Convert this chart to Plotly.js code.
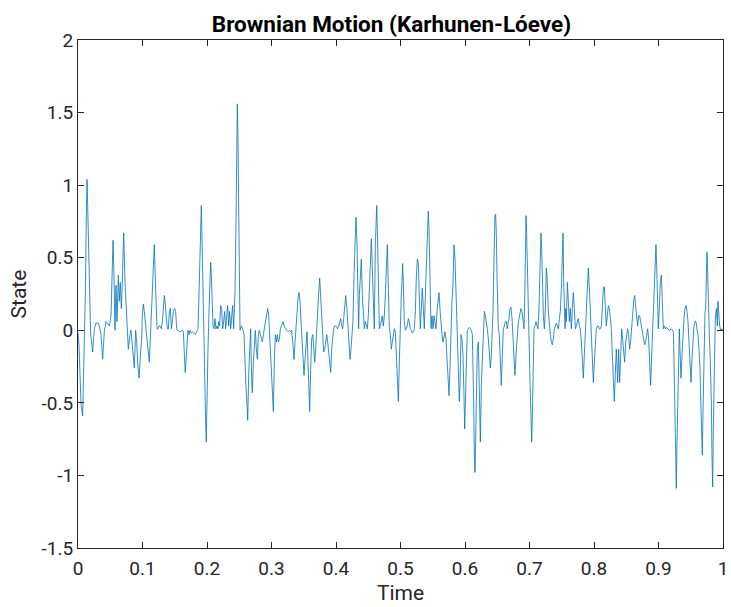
<!DOCTYPE html>
<html>
<head>
<meta charset="utf-8">
<script src="https://cdn.plot.ly/plotly-3.0.1.min.js"></script>
<style>html,body{margin:0;padding:0;background:#fff;}#chart{width:731px;height:607px;}</style>
</head>
<body>
<div id="chart"></div>
<script>
const chartTitle = 'Brownian Motion (Karhunen-Lóeve)';
const xLabel = 'Time';
const yLabel = 'State';
const xTickVals = [0, 0.1, 0.2, 0.3, 0.4, 0.5, 0.6, 0.7, 0.8, 0.9, 1];
const xTickText = ['0', '0.1', '0.2', '0.3', '0.4', '0.5', '0.6', '0.7', '0.8', '0.9', '1'];
const yTickVals = [-1.5, -1, -0.5, 0, 0.5, 1, 1.5, 2];
const yTickText = ['-1.5', '-1', '-0.5', '0', '0.5', '1', '1.5', '2'];

const time = [
0, 0.0016, 0.0031, 0.0047, 0.0072, 0.0098, 0.0114, 0.0129, 0.014, 0.015, 0.0165, 0.018, 0.0196, 0.0227, 0.0253, 0.028, 0.031, 0.033, 0.0357, 0.0382, 0.0408, 0.0434, 0.046, 0.0486, 0.0512, 0.0527, 0.0543, 0.0558, 0.0574, 0.0589, 0.0605, 0.0625, 0.064, 0.0656, 0.0672, 0.0687, 0.0708, 0.0729, 0.0744, 0.076, 0.078,
0.0806, 0.0822, 0.0837, 0.0858, 0.0873, 0.0894, 0.091, 0.0925, 0.0946, 0.0971, 0.0987, 0.0997, 0.1013, 0.1028, 0.1049, 0.1065, 0.1085, 0.1106, 0.1121, 0.1142, 0.1158, 0.1173, 0.1183, 0.1194, 0.1209, 0.1225, 0.124, 0.1256, 0.1271, 0.1292, 0.1308, 0.1323, 0.1339, 0.1354, 0.137, 0.1385, 0.1401, 0.1416, 0.1432, 0.1447, 0.1463, 0.1478, 0.1499, 0.1514, 0.153, 0.1545, 0.1582, 0.1618, 0.1633,
0.1649, 0.1662, 0.1674, 0.169, 0.1705, 0.1721, 0.1736, 0.1757, 0.1777, 0.1798, 0.1819, 0.1839, 0.186, 0.187, 0.1886, 0.1901, 0.1912, 0.1922, 0.1938, 0.1953, 0.1964, 0.1979, 0.1989, 0.2, 0.2015, 0.2031, 0.2046, 0.2057, 0.2067, 0.2077, 0.2093, 0.2108, 0.2124, 0.2139, 0.2155, 0.217, 0.2181, 0.2196, 0.2212, 0.2227, 0.2243, 0.2258, 0.2274, 0.2289, 0.2305, 0.232, 0.2336, 0.2351, 0.2367, 0.2382, 0.2398, 0.2413, 0.2424, 0.2434, 0.245, 0.246, 0.247, 0.2481,
0.2491, 0.2502, 0.2512, 0.2533, 0.2553, 0.2574, 0.259, 0.2605, 0.2621, 0.2631, 0.2646, 0.2662, 0.2677, 0.2693, 0.2703, 0.2719, 0.2734, 0.275, 0.2765, 0.2781, 0.2796, 0.2812, 0.2827, 0.2843, 0.2858, 0.2874, 0.2889, 0.2905, 0.2926, 0.2941, 0.2957, 0.2972, 0.2988, 0.3003, 0.3019, 0.3029, 0.3045, 0.306, 0.3076, 0.3091, 0.3107, 0.3122, 0.3138, 0.3158, 0.3179, 0.3194, 0.3215, 0.3236, 0.3256, 0.3277, 0.3298, 0.3313,
0.3333, 0.3349, 0.3365, 0.338, 0.3396, 0.3411, 0.3427, 0.3442, 0.3458, 0.3473, 0.3489, 0.3504, 0.352, 0.3535, 0.3551, 0.3566, 0.3582, 0.3592, 0.3608, 0.3623, 0.3639, 0.3654, 0.367, 0.3685, 0.3701, 0.3716, 0.3732, 0.3747, 0.3763, 0.3778, 0.3794, 0.3809, 0.3825, 0.384, 0.3856, 0.3871, 0.3887, 0.3902, 0.3918, 0.3933, 0.3949, 0.3964, 0.398, 0.3995, 0.4011, 0.4026, 0.4042, 0.4057, 0.4073, 0.4088, 0.4104, 0.4119, 0.4135, 0.415,
0.417, 0.4186, 0.4201, 0.4217, 0.4232, 0.4248, 0.4263, 0.4279, 0.4295, 0.431, 0.4326, 0.4341, 0.4351, 0.4362, 0.4377, 0.4393, 0.4408, 0.4424, 0.4439, 0.4455, 0.447, 0.4486, 0.4501, 0.4517, 0.4532, 0.4548, 0.4563, 0.4579, 0.4594, 0.461, 0.462, 0.4631, 0.4641, 0.4656, 0.4672, 0.4687, 0.4703, 0.4718, 0.4734, 0.4749, 0.4765, 0.4781, 0.4796, 0.4812, 0.4827, 0.4843, 0.4858, 0.4874, 0.4889, 0.4905, 0.492, 0.4936, 0.4951, 0.4967, 0.4982, 0.4998,
0.5013, 0.5023, 0.5033, 0.5044, 0.5059, 0.5075, 0.509, 0.5106, 0.5121, 0.5137, 0.5152, 0.5168, 0.5183, 0.5199, 0.5214, 0.523, 0.5245, 0.5261, 0.5276, 0.5292, 0.5307, 0.5323, 0.5338, 0.5354, 0.5369, 0.5385, 0.54, 0.5416, 0.5431, 0.5442, 0.5457, 0.5473, 0.5488, 0.5504, 0.5519, 0.5535, 0.555, 0.5566, 0.5581, 0.5597, 0.5612, 0.5628, 0.5643, 0.5659, 0.5674, 0.569, 0.5705, 0.5721, 0.5736, 0.5752, 0.5767, 0.5783, 0.5798, 0.5814, 0.5829,
0.5845, 0.586, 0.5876, 0.5891, 0.5902, 0.5912, 0.5922, 0.5938, 0.5953, 0.5969, 0.5984, 0.5995, 0.6005, 0.6021, 0.6036, 0.6052, 0.6067, 0.6083, 0.6098, 0.6114, 0.6124, 0.6134, 0.6145, 0.6155, 0.6165, 0.6176, 0.6191, 0.6207, 0.6222, 0.6238, 0.6253, 0.6269, 0.6284, 0.63, 0.6315, 0.6331, 0.6346, 0.6362, 0.6377, 0.6393, 0.6408, 0.6424, 0.6434, 0.6444, 0.6455, 0.6465, 0.6475, 0.6486, 0.6496, 0.6506, 0.6517, 0.6532, 0.6548, 0.6563, 0.6579, 0.6594, 0.661, 0.6625, 0.6641, 0.6656, 0.6672,
0.6682, 0.6698, 0.6713, 0.6729, 0.6744, 0.676, 0.6775, 0.6791, 0.6806, 0.6822, 0.6837, 0.6853, 0.6868, 0.6884, 0.6899, 0.6915, 0.6925, 0.6935, 0.6946, 0.6956, 0.6967, 0.6977, 0.6992, 0.7008, 0.7023, 0.7034, 0.7044, 0.7054, 0.707, 0.7085, 0.7101, 0.7116, 0.7132, 0.7147, 0.7163, 0.7178, 0.7189, 0.7199, 0.7215, 0.723, 0.7246, 0.7261, 0.7277, 0.7292, 0.7308, 0.7323, 0.7339, 0.7354, 0.737, 0.7385, 0.7401, 0.7416, 0.7432, 0.7447, 0.7463, 0.7478, 0.7494, 0.7509, 0.752,
0.753, 0.754, 0.7551, 0.7561, 0.7571, 0.7587, 0.7602, 0.7618, 0.7633, 0.7649, 0.7664, 0.768, 0.7695, 0.7711, 0.7726, 0.7742, 0.7757, 0.7773, 0.7788, 0.7804, 0.7819, 0.7835, 0.785, 0.7866, 0.7881, 0.7897, 0.7912, 0.7928, 0.7943, 0.7959, 0.7974, 0.799, 0.8005, 0.8021, 0.8036, 0.8052, 0.8067, 0.8083, 0.8098, 0.8114, 0.8129, 0.8145, 0.816, 0.8176, 0.8191, 0.8207, 0.8222, 0.8238, 0.8253, 0.8269, 0.8284, 0.83, 0.8315, 0.8331, 0.8346,
0.8367, 0.8382, 0.8398, 0.8413, 0.8429, 0.8444, 0.846, 0.8475, 0.8491, 0.8506, 0.8522, 0.8537, 0.8553, 0.8568, 0.8584, 0.8599, 0.8615, 0.863, 0.8646, 0.8661, 0.8677, 0.8692, 0.8708, 0.8723, 0.8739, 0.8754, 0.877, 0.8785, 0.8801, 0.8816, 0.8832, 0.8847, 0.8863, 0.8878, 0.8894, 0.8909, 0.8925, 0.894, 0.8951, 0.8961, 0.8972, 0.8982, 0.8997, 0.9013, 0.9028, 0.9044, 0.9059, 0.9075, 0.909, 0.9106, 0.9121, 0.9142, 0.9168, 0.9199,
0.923, 0.924, 0.9256, 0.9266, 0.9276, 0.9287, 0.9297, 0.9307, 0.9323, 0.9333, 0.9349, 0.9364, 0.938, 0.9395, 0.9411, 0.9426, 0.9442, 0.9457, 0.9473, 0.9488, 0.9504, 0.9519, 0.9535, 0.955, 0.9566, 0.9581, 0.9597, 0.9612, 0.9628, 0.9643, 0.9659, 0.9669, 0.9679, 0.969, 0.97, 0.971, 0.9721, 0.9731, 0.9741, 0.9752, 0.9762, 0.9772, 0.9788, 0.9803, 0.9819, 0.9829, 0.984, 0.985, 0.986, 0.9871, 0.9881, 0.9897, 0.9912, 0.9922, 0.9933, 0.9948, 0.9964, 0.9979, 1.0
];

const state = [
-0.02, -0.1, -0.3, -0.51, -0.59, -0.09, 0.25, 0.77, 1.04, 0.86, 0.52, 0.17, -0.02, -0.15, 0.01, 0.05, 0.05, 0.03, -0.03, -0.2, -0.01, 0.06, 0.04, 0.03, 0.1, 0.31, 0.62, 0.38, 0.0, 0.31, 0.06, 0.38, 0.2, 0.33, 0.15, 0.33, 0.67, 0.33, 0.17, 0.06, -0.13,
-0.03, 0.0, -0.08, -0.2, -0.26, 0.0, -0.08, -0.22, -0.33, -0.15, -0.06, 0.1, 0.18, 0.13, 0.01, -0.03, -0.13, -0.22, -0.08, 0.1, 0.29, 0.49, 0.59, 0.43, 0.13, 0.01, 0.01, 0.03, 0.03, 0.01, 0.06, 0.13, 0.24, 0.17, 0.1, 0.01, 0.01, 0.13, 0.15, 0.01, 0.06, 0.13, 0.15, 0.13, 0.01, 0.0, -0.01, 0.0, -0.01,
-0.15, -0.29, -0.22, -0.08, 0.0, -0.03, 0.0, -0.02, -0.01, -0.02, -0.03, -0.01, 0.01, 0.15, 0.43, 0.7, 0.86, 0.64, 0.22, -0.13, -0.38, -0.63, -0.77, -0.38, -0.13, 0.13, 0.33, 0.47, 0.38, 0.2, 0.03, 0.01, 0.08, 0.01, 0.03, 0.01, 0.06, 0.03, 0.17, 0.15, 0.01, 0.06, 0.13, 0.01, 0.13, 0.17, 0.03, 0.13, 0.01, 0.1, 0.17, 0.01, 0.15, 0.26, 0.75, 1.3, 1.56, 1.3,
0.77, 0.26, 0.0, 0.03, 0.01, -0.03, -0.31, -0.4, -0.52, -0.62, -0.31, -0.1, 0.01, -0.36, -0.43, -0.22, -0.13, 0.0, -0.13, -0.2, -0.03, 0.0, -0.03, -0.06, -0.08, -0.03, 0.01, 0.06, 0.1, 0.15, 0.1, -0.03, -0.17, -0.29, -0.45, -0.56, -0.2, -0.03, -0.08, -0.03, -0.08, -0.06, 0.01, 0.03, 0.06, 0.03, 0.01, 0.0, -0.01, 0.0, -0.01, 0.0,
-0.1, -0.2, -0.08, 0.03, 0.13, 0.22, 0.26, 0.2, 0.06, -0.06, -0.2, -0.31, -0.2, -0.06, -0.01, -0.22, -0.45, -0.56, -0.26, -0.06, -0.03, -0.13, -0.22, -0.13, 0.03, 0.15, 0.26, 0.36, 0.24, 0.13, -0.03, -0.15, -0.13, -0.06, -0.03, -0.08, -0.15, -0.24, -0.29, -0.13, -0.03, 0.01, 0.03, 0.03, 0.02, 0.01, 0.03, 0.06, 0.08, 0.03, 0.01, 0.08, 0.15, 0.24,
0.15, 0.01, -0.08, -0.2, -0.13, -0.03, 0.06, 0.38, 0.66, 0.78, 0.59, 0.2, 0.01, 0.24, 0.4, 0.49, 0.24, 0.08, 0.01, 0.06, 0.03, 0.01, 0.1, 0.31, 0.52, 0.63, 0.43, 0.15, 0.01, 0.59, 0.75, 0.86, 0.7, 0.43, 0.01, 0.03, 0.06, 0.1, 0.03, 0.1, 0.24, 0.49, 0.59, 0.29, 0.01, -0.03, -0.13, -0.08, -0.03, 0.01, -0.01, -0.22, -0.4, -0.49, -0.22, 0.1,
0.25, 0.33, 0.46, 0.33, 0.06, 0.0, 0.01, 0.03, 0.08, 0.06, 0.01, 0.0, -0.02, -0.01, 0.01, 0.13, 0.36, 0.49, 0.47, 0.24, 0.01, 0.15, 0.29, 0.15, 0.01, 0.24, 0.47, 0.68, 0.82, 0.7, 0.38, 0.01, 0.1, 0.01, 0.1, 0.06, 0.01, 0.13, 0.22, 0.26, 0.15, 0.01, -0.03, -0.08, -0.03, -0.01, -0.06, -0.2, -0.36, -0.45, -0.26, 0.01, 0.2, 0.31, 0.59,
0.49, 0.29, 0.1, -0.13, -0.38, -0.49, -0.38, -0.03, -0.06, -0.17, -0.45, -0.68, -0.52, -0.2, 0.0, 0.01, 0.02, 0.01, 0.0, -0.03, -0.22, -0.49, -0.86, -0.98, -0.77, -0.38, -0.13, -0.08, -0.4, -0.77, -0.38, -0.17, 0.03, 0.13, 0.1, 0.06, 0.01, -0.06, -0.17, -0.26, -0.17, 0.01, 0.13, 0.38, 0.68, 0.79, 0.8, 0.66, 0.38, 0.15, 0.01, -0.03, -0.22, -0.38, -0.17, 0.01, 0.03, 0.06, 0.06, 0.01, 0.06,
0.08, 0.15, 0.16, 0.08, -0.03, -0.17, -0.31, -0.17, -0.03, 0.03, 0.08, 0.13, 0.15, 0.13, 0.06, 0.01, 0.2, 0.47, 0.79, 0.66, 0.4, 0.15, -0.03, -0.36, -0.59, -0.77, -0.59, -0.22, 0.01, 0.03, 0.06, 0.03, 0.01, 0.15, 0.49, 0.67, 0.56, 0.33, 0.1, 0.01, 0.15, 0.43, 0.33, 0.13, 0.01, -0.03, -0.08, -0.1, -0.06, 0.01, 0.03, 0.05, 0.03, 0.01, 0.08, 0.13, 0.29, 0.52, 0.67,
0.33, 0.13, 0.01, 0.15, 0.06, 0.33, 0.2, 0.06, 0.15, 0.01, 0.15, 0.26, 0.15, 0.01, 0.03, 0.06, 0.08, 0.03, 0.01, -0.08, -0.2, -0.33, -0.17, 0.01, 0.13, 0.29, 0.43, 0.29, 0.1, -0.06, -0.22, -0.36, -0.22, -0.06, 0.01, 0.03, 0.03, 0.01, 0.01, 0.03, 0.15, 0.29, 0.3, 0.15, 0.03, 0.1, 0.17, 0.15, 0.08, 0.01, -0.17, -0.4, -0.49, -0.29, -0.13,
-0.36, -0.13, -0.36, -0.22, 0.01, -0.06, -0.17, -0.22, -0.08, -0.03, 0.01, -0.03, -0.13, -0.08, 0.03, 0.13, 0.2, 0.24, 0.17, 0.06, 0.03, 0.1, 0.1, 0.06, 0.01, -0.03, -0.08, -0.1, -0.08, -0.03, 0.01, -0.06, -0.22, -0.38, -0.17, 0.01, 0.13, 0.33, 0.49, 0.59, 0.43, 0.2, 0.01, 0.15, 0.33, 0.38, 0.2, 0.01, 0.03, 0.01, 0.02, 0.01, 0.0, 0.01,
-0.01, -0.2, -0.54, -0.91, -1.09, -0.77, -0.54, -0.2, 0.01, -0.13, -0.33, -0.17, 0.01, 0.08, 0.15, 0.17, 0.13, 0.06, -0.08, -0.24, -0.36, -0.2, -0.03, 0.03, 0.06, 0.06, 0.01, -0.03, -0.13, -0.26, -0.54, -0.72, -0.86, -0.56, -0.26, 0.01, 0.13, 0.15, 0.33, 0.54, 0.4, 0.15, -0.03, -0.22, -0.49, -0.86, -1.08, -0.68, -0.33, -0.08, 0.08, 0.15, 0.03, 0.2, 0.1, 0.03, 0.0, 0.01, 0.0
];

const axisColor = '#262626';
const fontFamily = 'Roboto, "Liberation Sans", sans-serif';

const trace = {
  x: time,
  y: state,
  type: 'scatter',
  mode: 'lines',
  line: {color: '#0072BD', width: 0.8},
  hoverinfo: 'skip'
};

const commonAxis = {
  showgrid: false,
  zeroline: false,
  showline: true,
  mirror: 'ticks',
  linecolor: axisColor,
  linewidth: 1,
  ticks: 'inside',
  ticklen: 6,
  tickwidth: 1,
  tickcolor: axisColor,
  tickfont: {family: fontFamily, size: 19, color: axisColor},
  fixedrange: true
};

const layout = {
  width: 731,
  height: 607,
  margin: {l: 78, r: 8, t: 40, b: 59, pad: 0},
  paper_bgcolor: '#ffffff',
  plot_bgcolor: '#ffffff',
  showlegend: false,
  font: {family: fontFamily, color: axisColor},
  title: {
    text: '<b>' + chartTitle + '</b>',
    font: {family: fontFamily, size: 22.5, color: '#000000'},
    x: 0.486, xref: 'paper', xanchor: 'center',
    y: 1 - 24 / 607, yref: 'container', yanchor: 'middle'
  },
  xaxis: Object.assign({}, commonAxis, {
    range: [0, 1],
    tickmode: 'array',
    tickvals: xTickVals,
    ticktext: xTickText,
    ticklabelstandoff: 3,
    title: {text: xLabel, font: {family: fontFamily, size: 21, color: axisColor}, standoff: 6}
  }),
  yaxis: Object.assign({}, commonAxis, {
    range: [-1.5, 2],
    tickmode: 'array',
    tickvals: yTickVals,
    ticktext: yTickText,
    ticklabelstandoff: 0,
    title: {text: yLabel, font: {family: fontFamily, size: 21, color: axisColor}, standoff: 9}
  })
};

Plotly.newPlot('chart', [trace], layout, {staticPlot: true, displayModeBar: false});
</script>
</body>
</html>
